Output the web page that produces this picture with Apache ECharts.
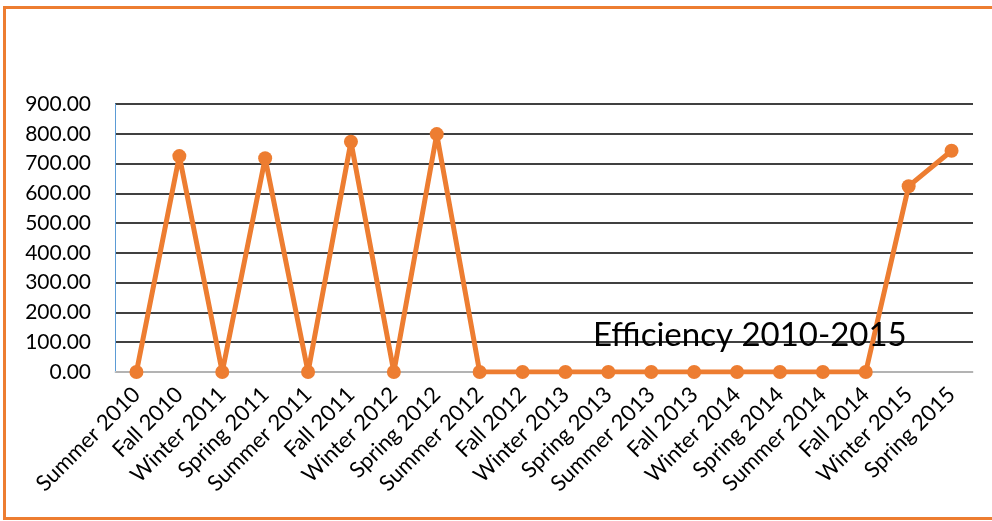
<!DOCTYPE html>
<html>
<head>
<meta charset="utf-8">
<script src="https://cdn.jsdelivr.net/npm/echarts@6/dist/echarts.min.js"></script>
<style>
  html, body { margin: 0; padding: 0; background: #fff; }
  #frame { position: absolute; left: 3px; top: 6px; width: 1000px; height: 508px; border: 3px solid #ED7D31; }
  #main { position: absolute; left: 0; top: 0; width: 992px; height: 521px; }
</style>
</head>
<body>
<div id="frame"></div>
<div id="main"></div>
<script>
  // seasons on the x axis
  let seasons = ["Summer 2010", "Fall 2010", "Winter 2011", "Spring 2011", "Summer 2011", "Fall 2011",
    "Winter 2012", "Spring 2012", "Summer 2012", "Fall 2012", "Winter 2013", "Spring 2013",
    "Summer 2013", "Fall 2013", "Winter 2014", "Spring 2014", "Summer 2014", "Fall 2014",
    "Winter 2015", "Spring 2015"];
  let efficiency = [0, 725, 0, 718, 0, 773, 0, 799, 0, 0, 0, 0, 0, 0, 0, 0, 0, 0, 624, 743];
  let yTicks = [0, 100, 200, 300, 400, 500, 600, 700, 800, 900];

  var myChart = echarts.init(document.getElementById("main"));
  var font = "Lato, 'Open Sans', sans-serif";
  var option = {
    animation: false,
    title: {
      text: "Efficiency 2010-2015",
      left: 588,
      top: 314,
      textStyle: { fontFamily: font, fontSize: 33, fontWeight: 'normal', color: '#000' }
    },
    grid: { left: 115, right: 19, top: 104, bottom: 149 },
    xAxis: {
      type: 'category',
      data: seasons,
      boundaryGap: true,
      axisLine: { show: true, lineStyle: { color: '#d9d9d9', width: 1.5 } },
      axisTick: { show: false },
      axisLabel: { rotate: 45, interval: 0, margin: 19, fontSize: 22, fontFamily: font, color: '#000' }
    },
    yAxis: {
      type: 'value',
      min: yTicks[0],
      max: yTicks[yTicks.length - 1],
      interval: 100,
      axisLine: { show: true, lineStyle: { color: '#5B9BD5', width: 1 } },
      axisTick: { show: false },
      splitLine: { show: true, lineStyle: { color: '#000', width: 1.5 } },
      axisLabel: {
        margin: 24, fontSize: 21, fontFamily: font, color: '#000',
        formatter: function (v) { return v.toFixed(2); }
      }
    },
    series: [{
      name: 'Efficiency',
      type: 'line',
      data: efficiency,
      symbol: 'circle',
      symbolSize: 14,
      lineStyle: { color: '#ED7D31', width: 5 },
      itemStyle: { color: '#ED7D31' }
    }]
  };
  myChart.setOption(option);
</script>
</body>
</html>
